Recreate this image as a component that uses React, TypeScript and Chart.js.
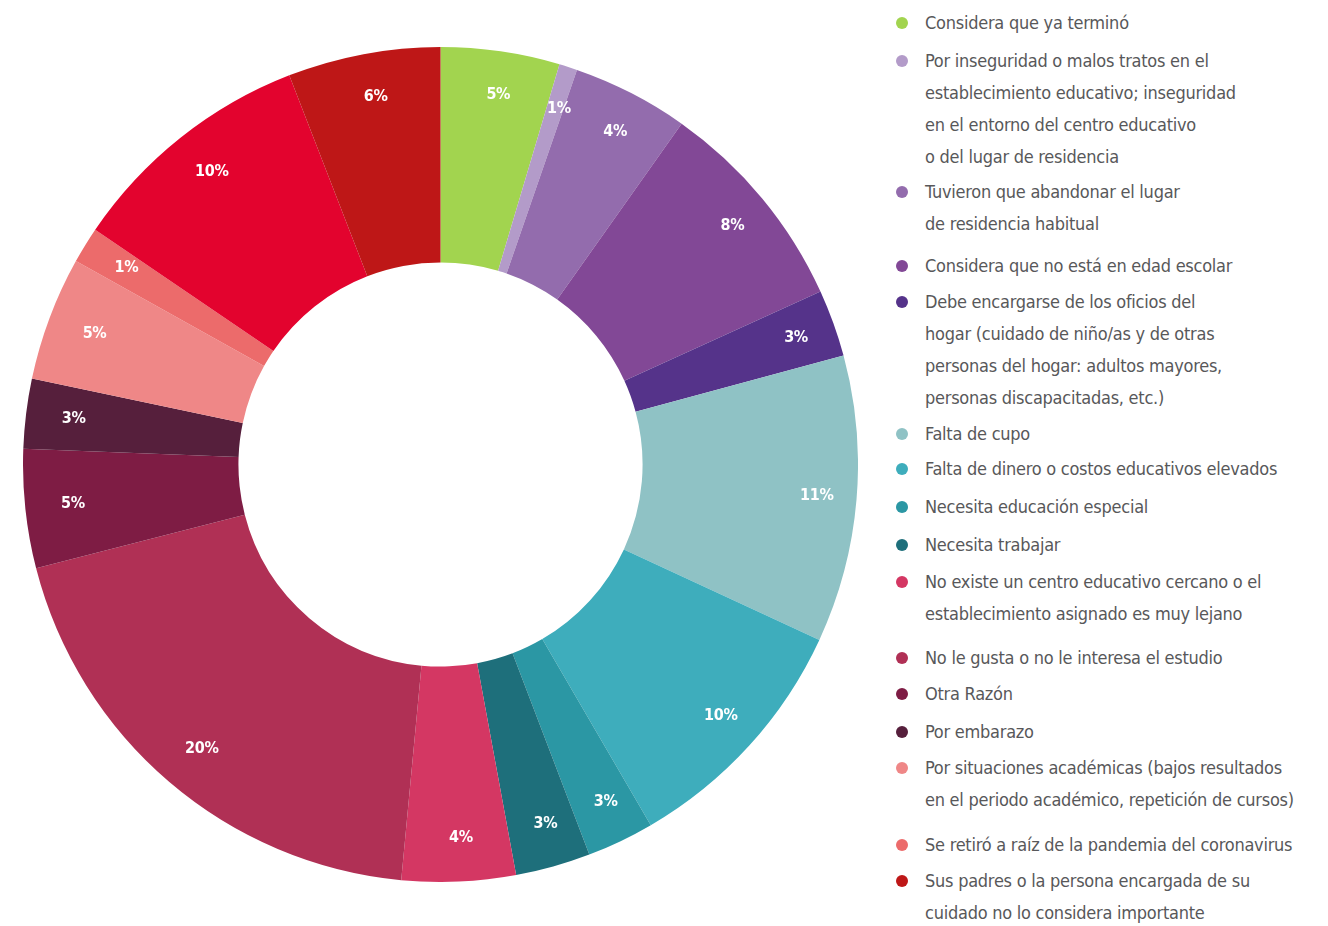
import React, { useEffect, useRef } from "react";
import { Chart, registerables } from "chart.js";

Chart.register(...registerables);

const categories = [
  "Considera que ya terminó",
  "Por inseguridad o malos tratos en el establecimiento educativo; inseguridad en el entorno del centro educativo o del lugar de residencia",
  "Tuvieron que abandonar el lugar de residencia habitual",
  "Considera que no está en edad escolar",
  "Debe encargarse de los oficios del hogar (cuidado de niño/as y de otras personas del hogar: adultos mayores, personas discapacitadas, etc.)",
  "Falta de cupo",
  "Falta de dinero o costos educativos elevados",
  "Necesita educación especial",
  "Necesita trabajar",
  "No existe un centro educativo cercano o el establecimiento asignado es muy lejano",
  "No le gusta o no le interesa el estudio",
  "Otra Razón",
  "Por embarazo",
  "Por situaciones académicas (bajos resultados en el periodo académico, repetición de cursos)",
  "Se retiró a raíz de la pandemia del coronavirus",
  "Otra",
  "Sus padres o la persona encargada de su cuidado no lo considera importante",
];

const values = [4.6, 0.7, 4.5, 8.4, 2.6, 11.1, 9.7, 2.6, 2.9, 4.4, 19.5, 4.6, 2.7, 4.8, 1.4, 9.6, 5.9];

const valueLabels = ["5%", "1%", "4%", "8%", "3%", "11%", "10%", "3%", "3%", "4%", "20%", "5%", "3%", "5%", "1%", "10%", "6%"];

const colors = [
  "#a2d44f", "#b39bc9", "#936cad", "#824896", "#55338a",
  "#8fc2c5", "#3eadbc", "#2b97a4", "#1e6f7b", "#d43763",
  "#b03055", "#7e1c44", "#561f3c", "#ef8787", "#ec6b6b",
  "#e3032e", "#be1717",
];

// legend entries: index into categories, and the visual line breaks
const legendIndex = [0, 1, 2, 3, 4, 5, 6, 7, 8, 9, 10, 11, 12, 13, 14, 16];
const legendLines = [
  ["Considera que ya terminó"],
  ["Por inseguridad o malos tratos en el", "establecimiento educativo; inseguridad", "en el entorno del centro educativo", "o del lugar de residencia"],
  ["Tuvieron que abandonar el lugar", "de residencia habitual"],
  ["Considera que no está en edad escolar"],
  ["Debe encargarse de los oficios del", "hogar (cuidado de niño/as y de otras", "personas del hogar: adultos mayores,", "personas discapacitadas, etc.)"],
  ["Falta de cupo"],
  ["Falta de dinero o costos educativos elevados"],
  ["Necesita educación especial"],
  ["Necesita trabajar"],
  ["No existe un centro educativo cercano o el", "establecimiento asignado es muy lejano"],
  ["No le gusta o no le interesa el estudio"],
  ["Otra Razón"],
  ["Por embarazo"],
  ["Por situaciones académicas (bajos resultados", "en el periodo académico, repetición de cursos)"],
  ["Se retiró a raíz de la pandemia del coronavirus"],
  ["Sus padres o la persona encargada de su", "cuidado no lo considera importante"],
];

// layout (not data)
const LEGEND_FIRST_LINE_Y = [23, 60.7, 191.7, 266, 301.7, 434, 469.3, 507.3, 545, 581.7, 658.3, 694.3, 732.3, 767.7, 845, 881];
const LINE_H = 32;
const FONT = '"Liberation Sans Narrow", "DejaVu Sans Condensed", "Roboto", sans-serif';

const labelPlugin = {
  id: "sliceLabels",
  afterDatasetsDraw(chart: any) {
    const ctx = chart.ctx;
    const meta = chart.getDatasetMeta(0);
    ctx.save();
    ctx.fillStyle = "#ffffff";
    ctx.font = `bold 16px ${FONT}`;
    try { (ctx as any).letterSpacing = "-0.3px"; } catch (e) {}
    ctx.textAlign = "center";
    ctx.textBaseline = "middle";
    meta.data.forEach((arc: any, i: number) => {
      const p = arc.getProps(["x", "y", "startAngle", "endAngle", "outerRadius"], true);
      const mid = (p.startAngle + p.endAngle) / 2;
      const r = p.outerRadius * 0.895;
      ctx.fillText(valueLabels[i], p.x + Math.cos(mid) * r + 4, p.y + Math.sin(mid) * r);
    });
    ctx.restore();
  },
};

export default function App() {
  const canvasRef = useRef<HTMLCanvasElement | null>(null);

  useEffect(() => {
    document.body.style.margin = "0";
    const chart = new Chart(canvasRef.current as HTMLCanvasElement, {
      type: "doughnut",
      data: {
        labels: categories,
        datasets: [
          {
            data: values,
            backgroundColor: colors,
            borderWidth: 0,
          },
        ],
      },
      options: {
        animation: false,
        responsive: true,
        maintainAspectRatio: false,
        cutout: "48.4%",
        layout: { padding: 0 },
        plugins: {
          legend: { display: false },
          tooltip: { enabled: false },
        },
      },
      plugins: [labelPlugin],
    });
    return () => chart.destroy();
  }, []);

  return (
    <div style={{ position: "absolute", left: 0, top: 0, width: 1328, height: 926, background: "#fff", overflow: "hidden" }}>
      <div style={{ position: "absolute", left: 23, top: 47, width: 835, height: 835 }}>
        <canvas ref={canvasRef} />
      </div>
      {legendLines.map((lines, k) => (
        <div key={k}>
          <div
            style={{
              position: "absolute",
              left: 896,
              top: LEGEND_FIRST_LINE_Y[k] - 6,
              width: 12,
              height: 12,
              borderRadius: "50%",
              background: colors[legendIndex[k]],
            }}
          />
          {lines.map((t, j) => (
            <div
              key={j}
              style={{
                position: "absolute",
                left: 925,
                top: LEGEND_FIRST_LINE_Y[k] + j * LINE_H - 16,
                height: LINE_H,
                lineHeight: `${LINE_H}px`,
                fontFamily: FONT,
                fontSize: 18,
                letterSpacing: "-0.25px",
                color: "#58585a",
                whiteSpace: "nowrap",
              }}
            >
              {t}
            </div>
          ))}
        </div>
      ))}
    </div>
  );
}
